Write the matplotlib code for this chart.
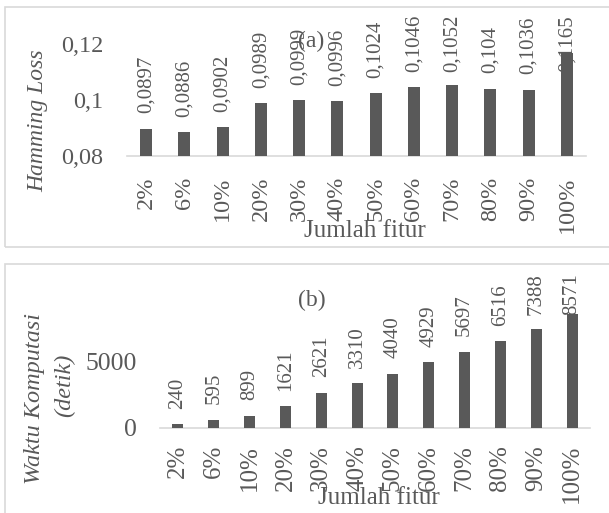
import matplotlib.pyplot as plt
from matplotlib.patches import Rectangle

# jumlah fitur (persentase) dan hasil pengujian
fitur = ['2%', '6%', '10%', '20%', '30%', '40%', '50%', '60%', '70%', '80%', '90%', '100%']
hamming_loss = [0.0897, 0.0886, 0.0902, 0.0989, 0.0999, 0.0996, 0.1024, 0.1046, 0.1052, 0.104, 0.1036, 0.1165]
hamming_label = ['0,0897', '0,0886', '0,0902', '0,0989', '0,0999', '0,0996', '0,1024', '0,1046', '0,1052', '0,104', '0,1036', '0,1165']
waktu = [240, 595, 899, 1621, 2621, 3310, 4040, 4929, 5697, 6516, 7388, 8571]

plt.rcParams['font.family'] = 'Liberation Serif'
txt = '#595959'
grid = '#d9d9d9'
bar_col = '#595959'
W, H = 609, 513

fig = plt.figure(figsize=(W/100, H/100), dpi=100)


def px(x, y):
    # piksel (dari kiri atas) -> koordinat figure
    return x / W, 1 - y / H


# bingkai tiap panel
fig.patches.append(Rectangle(px(5, 247), 1.0, 240/H, transform=fig.transFigure,
                             fill=False, edgecolor=grid, linewidth=1.2))
fig.patches.append(Rectangle(px(5, 560), 1.0, 296/H, transform=fig.transFigure,
                             fill=False, edgecolor=grid, linewidth=1.2))


def style(ax, ysize, ypad, xsize, xpad):
    for s in ['top', 'right', 'left']:
        ax.spines[s].set_visible(False)
    ax.spines['bottom'].set_color(grid)
    ax.spines['bottom'].set_linewidth(1.2)
    ax.tick_params(axis='both', length=0, colors=txt)
    ax.tick_params(axis='y', labelsize=ysize, pad=ypad)
    ax.tick_params(axis='x', labelsize=xsize, pad=xpad, labelrotation=90)
    ax.set_xlim(-0.5, len(fitur) - 0.5)
    ax.set_xticks(range(len(fitur)))
    ax.set_xticklabels(fitur)


def value_labels(ax, vals, labels, top_px):
    anns = []
    for i, v in enumerate(vals):
        a = ax.annotate(labels[i], (i, v), xytext=(0, 11), textcoords='offset points',
                        rotation=90, ha='center', va='bottom', fontsize=15, color=txt,
                        annotation_clip=False, zorder=4)
        anns.append(a)
    # label yang melewati batas atas area plot digeser ke bawah
    fig.canvas.draw()
    r = fig.canvas.get_renderer()
    limit = H - top_px
    for a in anns:
        bb = a.get_window_extent(r)
        if bb.y1 > limit:
            a.xyann = (0, 11 - (bb.y1 - limit) * 72 / fig.dpi)


# (a) Hamming Loss
x0, y0 = px(127, 156)
ax1 = fig.add_axes([x0, y0, (586 - 127)/W, 112.5/H])
ax1.bar(range(len(fitur)), hamming_loss, width=0.31, color=bar_col, zorder=3)
ax1.set_ylim(0.08, 0.12)
ax1.set_yticks([0.08, 0.1, 0.12])
ax1.set_yticklabels(['0,08', '0,1', '0,12'])
style(ax1, 17.5, 17, 17.5, 15)
fig.text(*px(38, 121), 'Hamming Loss', fontsize=17, style='italic', color=txt,
         rotation=90, ha='center', va='center')
fig.text(*px(365, 231), 'Jumlah fitur', fontsize=18, color=txt, ha='center', va='center')
fig.text(*px(311, 41), '(a)', fontsize=17, color=txt, ha='center', va='center')

# (b) Waktu komputasi
x0, y0 = px(160, 427.5)
ax2 = fig.add_axes([x0, y0, (590 - 160)/W, 119.7/H])
ax2.bar(range(len(fitur)), waktu, width=0.31, color=bar_col, zorder=3)
ax2.set_ylim(0, 9000)
ax2.set_yticks([0, 5000])
ax2.set_yticklabels(['0', '5000'])
style(ax2, 18.5, 16.5, 18, 12.5)
fig.text(*px(35, 398), 'Waktu Komputasi', fontsize=17.5, style='italic', color=txt,
         rotation=90, ha='center', va='center')
fig.text(*px(65, 385), '(detik)', fontsize=17.5, style='italic', color=txt,
         rotation=90, ha='center', va='center')
fig.text(*px(379, 498), 'Jumlah fitur', fontsize=18, color=txt, ha='center', va='center')
fig.text(*px(312, 300), '(b)', fontsize=17, color=txt, ha='center', va='center')

value_labels(ax1, hamming_loss, hamming_label, 15)
value_labels(ax2, waktu, [str(v) for v in waktu], 273)

plt.savefig('out.png', dpi=100)
